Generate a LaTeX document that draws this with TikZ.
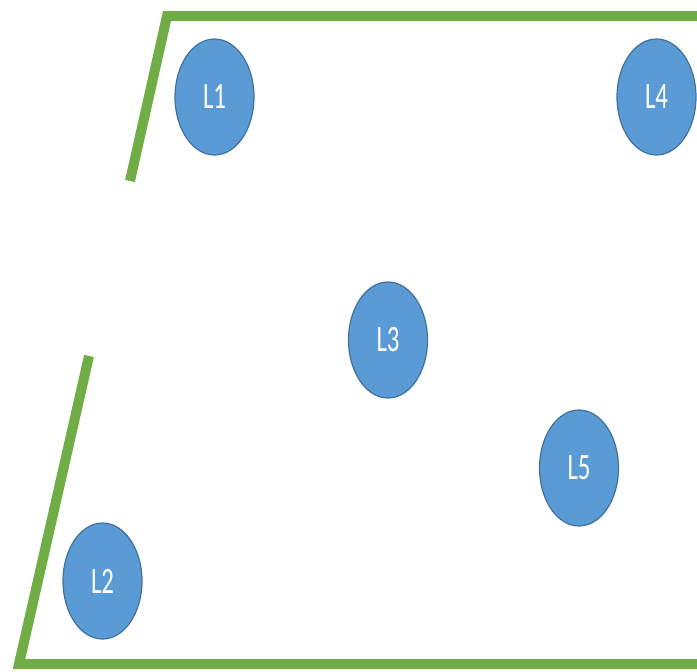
\documentclass[tikz,border=0pt]{standalone}
\usepackage{fontspec}
\setmainfont{Carlito}
\usepackage{xcolor}
\usetikzlibrary{shapes.geometric}
\definecolor{cellblue}{HTML}{5B9BD5}
\definecolor{cellrim}{HTML}{41719C}
\definecolor{roadgreen}{HTML}{70AD47}
\begin{document}
\begin{tikzpicture}[
    x=0.5pt, y=-0.5pt,
    cell/.style={
        ellipse,
        draw=cellrim,
        fill=cellblue,
        line width=0.6pt,
        minimum width=39.5pt,
        minimum height=58pt,
        inner sep=0pt,
        text=white,
        font=\fontsize{12.4}{14}\selectfont
    },
    border/.style={roadgreen, line width=5pt, line join=miter}
]
\useasboundingbox (0,0) rectangle (697,671);

% Borders
\draw[border] (130,181) -- (167,16) -- (697,16);
\draw[border] (89,356) -- (19,664) -- (697,664);

% Cells
\node[cell] (l1) at (214.5,97) {\scalebox{1}[1.5]{L1}};
\node[cell] (l4) at (656.5,97) {\scalebox{1}[1.5]{L4}};
\node[cell] (l3) at (388,340) {\scalebox{1}[1.5]{L3}};
\node[cell] (l5) at (579,468) {\scalebox{1}[1.5]{L5}};
\node[cell] (l2) at (102.5,581) {\scalebox{1}[1.5]{L2}};

\end{tikzpicture}
\end{document}
